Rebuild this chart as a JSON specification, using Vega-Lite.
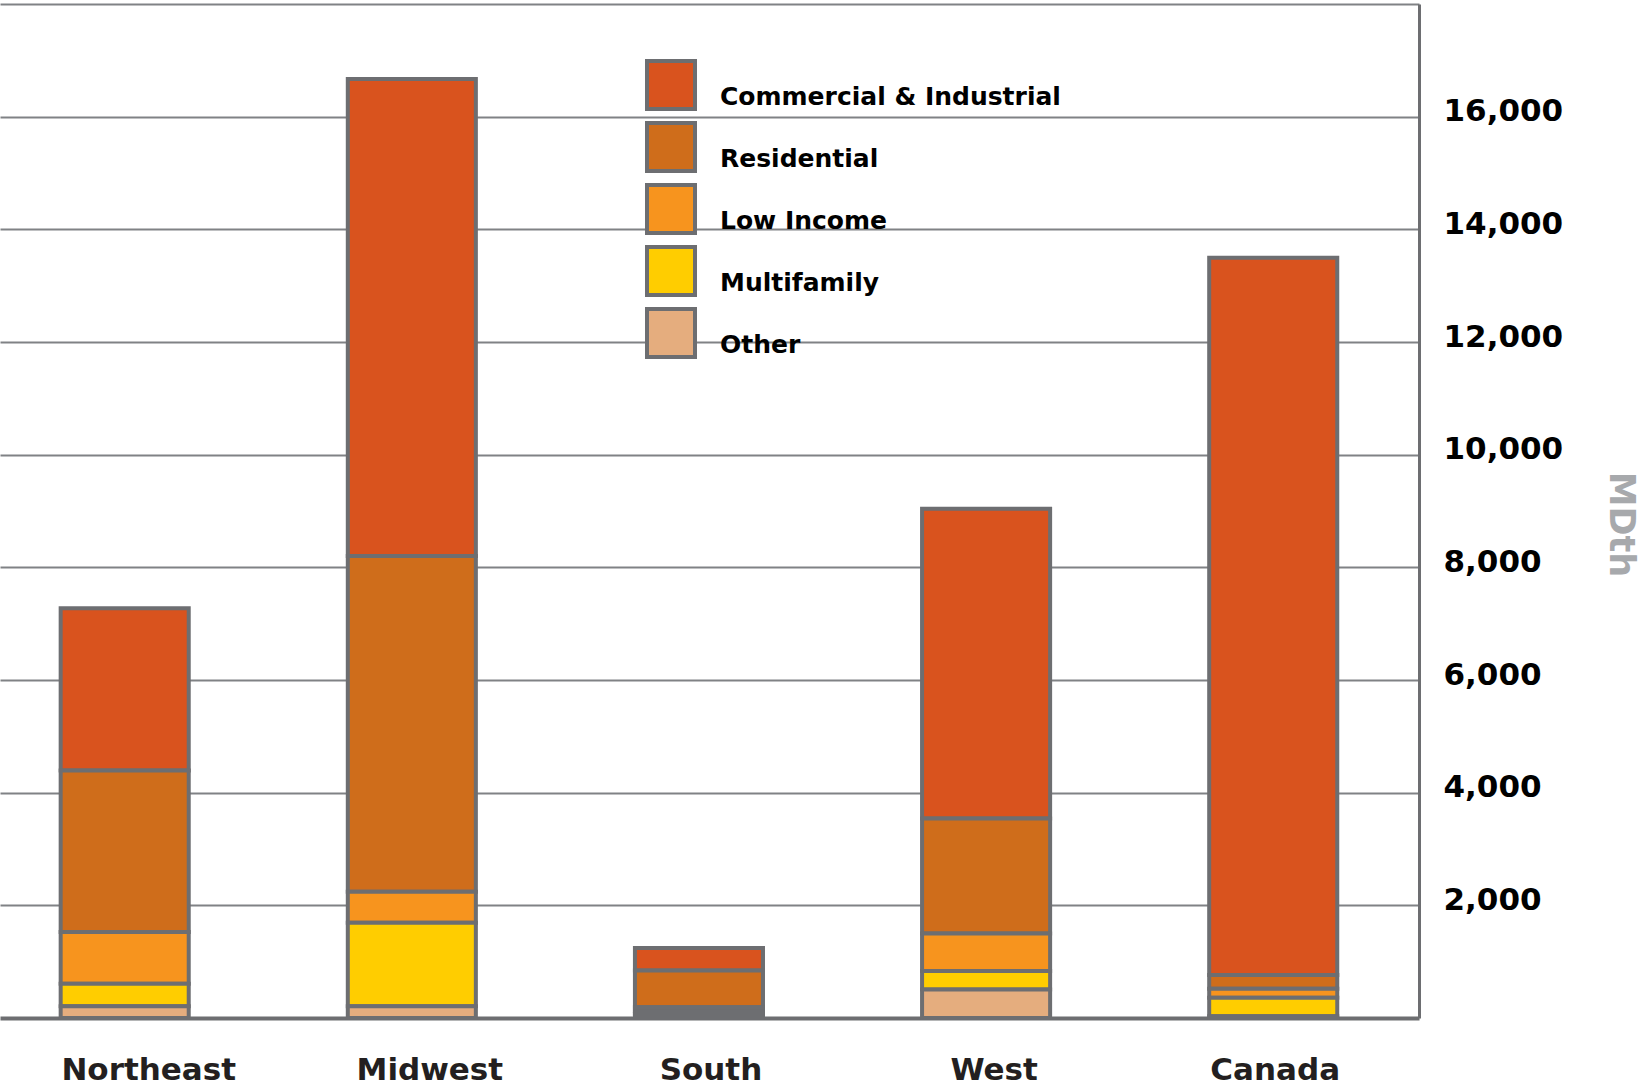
{
  "$schema": "https://vega.github.io/schema/vega-lite/v6.json",
  "width": 1419,
  "height": 1014,
  "autosize": {"type": "none"},
  "padding": {"left": 0, "top": 4, "right": 223, "bottom": 68},
  "background": "white",
  "config": {"view": {"stroke": null}},
  "data": {
    "values": [
      {"region": "Northeast", "segment": "Commercial & Industrial", "value": 2880},
      {"region": "Northeast", "segment": "Residential", "value": 2865},
      {"region": "Northeast", "segment": "Low Income", "value": 917},
      {"region": "Northeast", "segment": "Multifamily", "value": 400},
      {"region": "Northeast", "segment": "Other", "value": 210},
      {"region": "Midwest", "segment": "Commercial & Industrial", "value": 8470},
      {"region": "Midwest", "segment": "Residential", "value": 5960},
      {"region": "Midwest", "segment": "Low Income", "value": 550},
      {"region": "Midwest", "segment": "Multifamily", "value": 1480},
      {"region": "Midwest", "segment": "Other", "value": 210},
      {"region": "South", "segment": "Commercial & Industrial", "value": 402},
      {"region": "South", "segment": "Residential", "value": 652},
      {"region": "South", "segment": "Low Income", "value": 70},
      {"region": "South", "segment": "Multifamily", "value": 50},
      {"region": "South", "segment": "Other", "value": 70},
      {"region": "West", "segment": "Commercial & Industrial", "value": 5497},
      {"region": "West", "segment": "Residential", "value": 2040},
      {"region": "West", "segment": "Low Income", "value": 668},
      {"region": "West", "segment": "Multifamily", "value": 326},
      {"region": "West", "segment": "Other", "value": 507},
      {"region": "Canada", "segment": "Commercial & Industrial", "value": 12733},
      {"region": "Canada", "segment": "Residential", "value": 243},
      {"region": "Canada", "segment": "Low Income", "value": 159},
      {"region": "Canada", "segment": "Multifamily", "value": 330},
      {"region": "Canada", "segment": "Other", "value": 30}
    ]
  },
  "transform": [
    {"calculate": "indexof(['Other','Multifamily','Low Income','Residential','Commercial & Industrial'], datum.segment)", "as": "ord"}
  ],
  "mark": {"type": "bar", "stroke": "#6d6e71", "strokeWidth": 4},
  "encoding": {
    "x": {
      "field": "region",
      "type": "nominal",
      "sort": ["Northeast", "Midwest", "South", "West", "Canada"],
      "scale": {"paddingInner": 0.554, "paddingOuter": 0.248, "align": 0.426, "round": false},
      "axis": {
        "title": null,
        "labelAngle": 0,
        "labelFont": "DejaVu Sans",
        "labelFontWeight": "bold",
        "labelFontSize": 31,
        "labelColor": "#231f20",
        "labelPadding": 37,
        "labelBaseline": "top",
        "labelOffset": {"expr": "datum.value == 'Northeast' ? 24 : datum.value == 'Midwest' ? 18 : datum.value == 'South' ? 12 : datum.value == 'West' ? 8 : 2"},
        "ticks": false,
        "tickSize": 0,
        "domainColor": "#6d6e71",
        "domainWidth": 4,
        "grid": false
      }
    },
    "y": {
      "field": "value",
      "type": "quantitative",
      "aggregate": "sum",
      "stack": "zero",
      "scale": {"domain": [0, 18000], "nice": false},
      "axis": {
        "orient": "right",
        "values": [2000, 4000, 6000, 8000, 10000, 12000, 14000, 16000, 18000],
        "labelExpr": "datum.value >= 18000 ? '' : format(datum.value, ',')",
        "labelFont": "DejaVu Sans",
        "labelFontWeight": "bold",
        "labelFontSize": 31,
        "labelColor": "#000000",
        "labelPadding": 24,
        "labelAlign": "left",
        "labelBaseline": "middle",
        "labelOffset": -5,
        "ticks": false,
        "tickSize": 0,
        "domainColor": "#6d6e71",
        "domainWidth": 3,
        "grid": true,
        "gridColor": "#808285",
        "gridWidth": 2,
        "title": "MDth",
        "titleFont": "DejaVu Sans",
        "titleFontWeight": "bold",
        "titleFontSize": 35,
        "titleColor": "#a7a9ac",
        "titleAngle": 90,
        "titleAlign": "center",
        "titleBaseline": "middle",
        "titleX": 201,
        "titleY": 520,
        "titleLimit": 300
      }
    },
    "color": {
      "field": "segment",
      "type": "nominal",
      "sort": ["Commercial & Industrial", "Residential", "Low Income", "Multifamily", "Other"],
      "scale": {
        "domain": ["Commercial & Industrial", "Residential", "Low Income", "Multifamily", "Other"],
        "range": ["#d9531e", "#cf6d1b", "#f7941e", "#ffcd00", "#e5ad7e"]
      },
      "legend": {
        "title": null,
        "orient": "none",
        "legendX": 645,
        "legendY": 55,
        "padding": 0,
        "symbolType": "square",
        "symbolSize": 2304,
        "symbolStrokeColor": "#6d6e71",
        "symbolStrokeWidth": 4,
        "symbolOpacity": 1,
        "rowPadding": -2,
        "labelFont": "DejaVu Sans",
        "labelFontWeight": "bold",
        "labelFontSize": 25,
        "labelColor": "#000000",
        "labelOffset": 23,
        "labelBaseline": "top",
        "labelLimit": 600
      }
    },
    "order": {"field": "ord", "type": "quantitative", "sort": "ascending"}
  }
}
